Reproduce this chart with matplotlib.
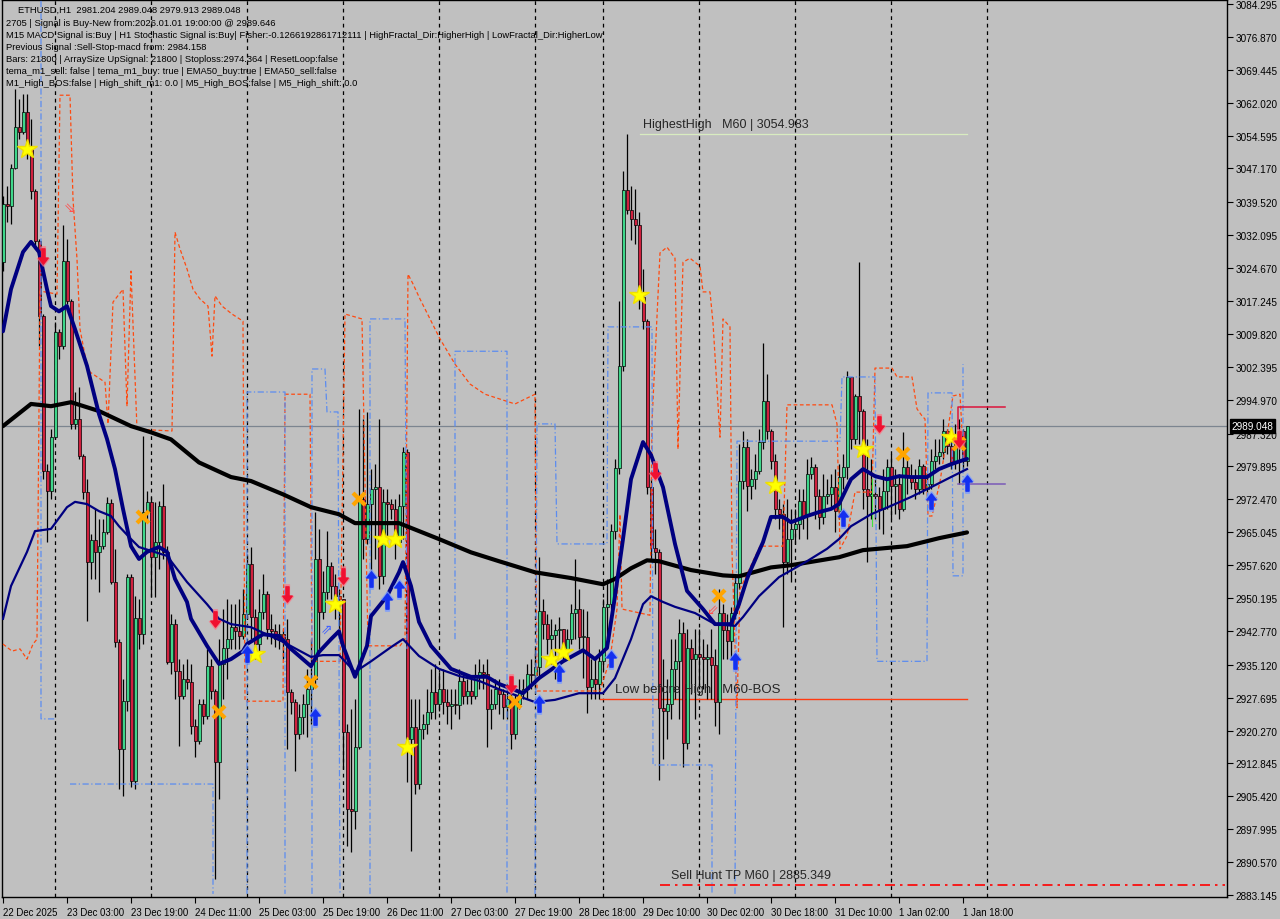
import numpy as np
import matplotlib
matplotlib.use("Agg")
import matplotlib.pyplot as plt
from matplotlib.path import Path
from matplotlib.transforms import blended_transform_factory

plt.rcParams['font.family'] = ['Liberation Sans', 'DejaVu Sans']

# ---- ETHUSD H1 bars (bar index 0 = 22 Dec 11:00) ----
first_open = 3026.0
closes = [3039.1, 3038.7, 3047.3, 3056.5, 3055.4, 3059.9, 3051.5, 3042.1, 3030.8, 3013.9,
          2978.9, 2974.3, 2986.5, 3010.2, 3007.1, 3026.3, 3017.2, 2989.5, 2990.6, 2982.3,
          2974.1, 2958.3, 2963.3, 2960.6, 2961.9, 2965.1, 2971.6, 2953.8, 2940.3, 2916.1,
          2926.9, 2954.9, 2908.9, 2945.7, 2942.0, 2969.6, 2971.9, 2959.4, 2962.8, 2971.0,
          2960.6, 2935.7, 2944.3, 2933.7, 2928.0, 2931.9, 2931.2, 2921.3, 2917.9, 2926.2,
          2923.5, 2934.8, 2929.2, 2913.2, 2935.3, 2938.9, 2940.9, 2943.6, 2942.7, 2941.6,
          2946.6, 2957.9, 2945.9, 2939.8, 2947.0, 2951.1, 2943.2, 2942.7, 2940.9, 2942.0,
          2940.9, 2929.0, 2926.7, 2919.5, 2923.3, 2926.2, 2929.6, 2931.9, 2959.0, 2947.0,
          2951.5, 2957.4, 2952.9, 2950.6, 2949.9, 2919.9, 2902.6, 2902.1, 2916.6, 2972.5,
          2963.5, 2971.4, 2974.8, 2975.2, 2955.2, 2971.9, 2971.4, 2970.3, 2962.8, 2971.0,
          2983.1, 2918.4, 2921.0, 2908.2, 2920.6, 2921.7, 2924.4, 2929.0, 2926.2, 2929.6,
          2926.7, 2925.8, 2926.2, 2926.0, 2931.5, 2928.0, 2929.2, 2928.0, 2932.4, 2933.5,
          2933.0, 2925.1, 2926.2, 2929.6, 2928.5, 2925.6, 2927.4, 2919.5, 2926.2, 2929.2,
          2929.6, 2933.0, 2932.8, 2934.6, 2947.3, 2944.3, 2940.9, 2941.8, 2942.9, 2943.2,
          2938.4, 2940.9, 2946.8, 2947.7, 2941.4, 2941.4, 2930.1, 2931.9, 2930.8, 2935.9,
          2948.2, 2948.8, 2965.3, 2979.5, 3002.6, 3042.3, 3037.8, 3035.8, 3034.4, 3018.1,
          3012.7, 2975.2, 2961.5, 2960.6, 2925.3, 2924.7, 2926.2, 2934.2, 2935.9, 2942.3,
          2917.5, 2938.9, 2936.4, 2937.6, 2936.9, 2936.4, 2936.9, 2935.0, 2926.7, 2946.8,
          2942.9, 2940.5, 2946.8, 2953.6, 2976.6, 2984.3, 2975.4, 2977.0, 2978.9, 2985.4,
          2994.7, 2987.9, 2981.1, 2970.3, 2969.1, 2958.3, 2963.5, 2965.8, 2966.9, 2972.1,
          2968.7, 2978.2, 2979.8, 2973.2, 2968.5, 2973.2, 2973.7, 2975.2, 2969.8, 2977.5,
          2979.8, 3000.1, 2986.1, 2995.8, 2992.4, 2974.8, 2973.2, 2973.7, 2973.2, 2970.3,
          2974.3, 2979.8, 2975.4, 2975.9, 2970.3, 2979.8, 2977.7, 2976.4, 2974.8, 2980.0,
          2974.8, 2975.9, 2981.1, 2982.3, 2983.1, 2987.9, 2984.5, 2980.9, 2987.2, 2987.9,
          2981.204, 2989.048]
highs = [3040.9, 3043.2, 3048.2, 3065.1, 3062.8, 3064.0, 3064.0, 3058.3, 3042.5, 3031.2,
         3014.3, 2980.4, 2988.3, 3012.5, 3010.9, 3034.4, 3031.2, 3017.7, 2996.7, 2997.8,
         2982.7, 2977.0, 2964.6, 2970.3, 2968.0, 2968.0, 2973.0, 2972.5, 2961.3, 2940.9,
         2931.9, 2955.6, 2955.6, 2950.6, 2949.9, 2986.8, 2974.3, 2973.0, 2971.9, 2972.1,
         2975.9, 2961.9, 2946.6, 2945.5, 2936.4, 2935.3, 2936.4, 2935.3, 2922.9, 2927.4,
         2927.4, 2938.7, 2936.4, 2929.6, 2940.9, 2947.7, 2949.9, 2948.8, 2948.8, 2949.9,
         2952.2, 2960.1, 2961.7, 2947.7, 2952.2, 2955.6, 2951.8, 2946.6, 2944.3, 2944.3,
         2943.2, 2945.5, 2929.6, 2927.4, 2926.2, 2928.5, 2934.2, 2940.9, 2969.6, 2965.8,
         2956.3, 2965.3, 2958.3, 2955.6, 2952.2, 2949.9, 2921.7, 2925.1, 2927.4, 2992.9,
         2990.6, 2992.2, 2979.3, 2980.4, 2990.6, 2974.8, 2974.8, 2972.5, 2972.5, 2973.7,
         2984.3, 2983.8, 2927.4, 2927.4, 2927.4, 2924.0, 2929.6, 2934.2, 2935.3, 2933.5,
         2934.2, 2929.6, 2929.6, 2929.6, 2934.2, 2933.0, 2931.9, 2932.4, 2935.3, 2936.4,
         2935.3, 2936.4, 2929.6, 2931.9, 2931.9, 2929.6, 2930.8, 2929.6, 2928.5, 2931.9,
         2931.9, 2935.3, 2936.4, 2938.7, 2959.4, 2949.9, 2946.6, 2945.5, 2944.3, 2945.9,
         2943.2, 2943.2, 2948.8, 2959.0, 2952.2, 2947.7, 2947.3, 2936.4, 2936.4, 2938.7,
         2949.9, 2954.5, 2966.9, 2981.6, 3017.2, 3046.6, 3054.98, 3043.2, 3042.5, 3037.3,
         3024.5, 3013.2, 2977.0, 2965.8, 2961.3, 2936.4, 2931.9, 2940.9, 2940.9, 2945.5,
         2944.8, 2943.2, 2940.9, 2943.2, 2943.2, 2940.9, 2939.8, 2943.2, 2938.7, 2952.2,
         2948.8, 2946.6, 2948.2, 2955.6, 2984.9, 2987.9, 2986.1, 2979.3, 2982.7, 2988.3,
         3007.8, 3000.8, 2988.3, 2982.7, 2972.5, 2971.4, 2972.5, 2970.3, 2970.3, 2974.8,
         2974.8, 2981.6, 2982.0, 2980.4, 2974.8, 2978.2, 2977.0, 2978.2, 2979.3, 2980.4,
         2982.7, 3001.4, 3000.1, 2996.3, 3026.0, 2992.9, 2986.1, 2981.6, 2977.0, 2975.2,
         2979.3, 2981.6, 2982.7, 2979.3, 2978.2, 2987.7, 2981.6, 2980.4, 2979.3, 2981.6,
         2980.4, 2978.2, 2983.8, 2986.1, 2986.1, 2990.6, 2988.3, 2988.3, 2989.5, 2990.6,
         2988.3, 2989.048]
lows = [3024.0, 3035.1, 3034.6, 3047.0, 3053.8, 3054.9, 3049.3, 3040.3, 3029.0, 3007.1,
        2977.0, 2962.8, 2972.5, 2986.1, 3004.1, 3006.4, 3016.6, 2988.3, 2988.3, 2981.6,
        2972.5, 2945.0, 2954.5, 2954.5, 2951.5, 2961.3, 2964.6, 2953.4, 2939.1, 2907.1,
        2905.5, 2924.7, 2907.5, 2907.1, 2938.7, 2939.8, 2968.0, 2950.4, 2950.4, 2956.7,
        2959.0, 2935.3, 2933.0, 2927.4, 2916.8, 2927.4, 2929.6, 2919.5, 2914.3, 2917.2,
        2921.7, 2922.9, 2927.4, 2886.7, 2904.8, 2927.4, 2931.9, 2938.7, 2938.7, 2938.7,
        2940.9, 2945.5, 2940.9, 2936.4, 2937.6, 2945.5, 2940.9, 2939.8, 2939.1, 2938.7,
        2936.4, 2916.1, 2924.0, 2911.1, 2918.4, 2919.5, 2918.8, 2921.7, 2930.8, 2938.7,
        2945.5, 2949.9, 2949.9, 2945.5, 2943.2, 2911.6, 2894.2, 2892.8, 2898.0, 2916.1,
        2959.0, 2962.4, 2954.5, 2959.0, 2952.2, 2953.4, 2963.5, 2968.0, 2959.0, 2962.4,
        2963.5, 2908.7, 2893.1, 2905.9, 2907.1, 2918.4, 2919.5, 2922.9, 2922.9, 2924.7,
        2924.0, 2921.7, 2920.6, 2924.0, 2922.9, 2926.2, 2926.2, 2926.2, 2927.4, 2929.6,
        2929.6, 2916.6, 2920.6, 2925.1, 2924.0, 2922.9, 2922.9, 2916.1, 2918.4, 2925.1,
        2927.4, 2927.4, 2929.6, 2929.6, 2931.9, 2940.9, 2937.6, 2935.3, 2931.9, 2938.7,
        2936.4, 2936.4, 2939.8, 2940.9, 2938.7, 2932.1, 2924.2, 2927.4, 2927.4, 2927.4,
        2934.2, 2940.9, 2947.7, 2963.5, 2978.2, 3001.4, 3036.9, 3031.0, 3030.1, 3015.4,
        3010.9, 2973.7, 2959.0, 2955.6, 2909.1, 2913.8, 2918.4, 2922.9, 2927.4, 2922.9,
        2912.0, 2916.1, 2928.5, 2922.9, 2929.6, 2929.6, 2927.4, 2927.4, 2921.3, 2919.5,
        2936.4, 2936.4, 2936.4, 2945.5, 2952.2, 2974.8, 2969.8, 2972.5, 2974.8, 2978.2,
        2983.8, 2986.1, 2979.3, 2968.0, 2965.8, 2943.6, 2955.6, 2953.8, 2962.4, 2963.5,
        2965.8, 2963.5, 2977.0, 2968.0, 2965.8, 2966.9, 2971.4, 2970.3, 2965.1, 2968.0,
        2974.8, 2977.0, 2983.8, 2984.9, 2984.9, 2970.3, 2958.3, 2968.0, 2968.0, 2965.8,
        2964.6, 2970.3, 2968.0, 2969.1, 2968.0, 2969.8, 2973.7, 2974.8, 2972.5, 2973.7,
        2973.7, 2972.5, 2974.8, 2979.3, 2980.4, 2981.6, 2982.7, 2979.3, 2979.3, 2975.9,
        2979.3, 2979.913]

# ---- moving averages (bar, price) ----
fast_bars = [0, 2, 5, 7, 9, 11, 12, 14, 16, 18, 21, 24, 26, 28, 30, 32, 34, 36, 39, 41, 43, 46, 47, 51, 54,
             57, 60, 61, 65, 69, 72, 77, 79, 82, 84, 85, 88, 91, 92, 96, 99, 100, 102, 104, 107, 112, 117,
             121, 124, 130, 134, 140, 145, 148, 151, 153, 155, 157, 160, 162, 165, 168, 171, 175, 178, 182,
             184, 186, 187, 190, 192, 195, 197, 201, 204, 207, 209, 212, 215, 218, 221, 224, 227, 231, 234,
             237, 241]
fast_ma = [3010.4, 3019.9, 3028.3, 3030.6, 3028.3, 3019.9, 3016.1, 3014.9, 3016.1, 3010.9, 3002.6, 2991.7,
           2986.1, 2979.3, 2970.3, 2961.9, 2959.0, 2960.6, 2961.7, 2960.6, 2954.5, 2949.3, 2945.5, 2939.4,
           2935.3, 2936.4, 2938.2, 2939.8, 2942.0, 2941.6, 2938.7, 2934.8, 2938.0, 2940.9, 2942.7, 2939.4,
           2932.4, 2939.4, 2946.1, 2950.6, 2956.0, 2958.3, 2952.9, 2944.8, 2939.4, 2934.2, 2932.4, 2932.4,
           2930.8, 2928.7, 2932.1, 2935.9, 2938.4, 2936.4, 2938.9, 2950.6, 2963.5, 2977.0, 2985.4, 2982.5,
           2975.2, 2962.4, 2951.8, 2947.7, 2944.3, 2944.3, 2948.8, 2954.5, 2956.7, 2962.8, 2968.5, 2968.5,
           2967.3, 2968.7, 2969.6, 2970.3, 2971.4, 2977.0, 2979.3, 2977.7, 2977.0, 2977.7, 2977.5, 2977.5,
           2979.3, 2980.4, 2981.6]
slow_bars = [0, 2, 6, 8, 12, 16, 18, 21, 24, 27, 29, 32, 34, 41, 46, 51, 54, 57, 62, 70, 77, 80, 84, 88, 92,
             97, 100, 104, 109, 114, 119, 124, 133, 138, 144, 150, 153, 157, 160, 162, 165, 168, 173, 178,
             183, 185, 189, 194, 201, 206, 209, 212, 217, 222, 227, 232, 237, 241]
slow_ma = [2945.5, 2952.9, 2960.6, 2965.3, 2965.8, 2970.7, 2971.9, 2971.4, 2969.8, 2968.7, 2966.4, 2963.5,
           2961.7, 2959.7, 2953.8, 2948.8, 2945.5, 2944.3, 2943.6, 2940.3, 2936.9, 2937.3, 2937.3, 2933.5,
           2935.9, 2939.1, 2940.9, 2937.1, 2934.2, 2932.6, 2931.5, 2929.6, 2926.7, 2927.2, 2928.7, 2928.7,
           2932.1, 2940.9, 2948.8, 2950.6, 2949.3, 2948.2, 2946.8, 2944.3, 2943.9, 2945.9, 2950.6, 2954.9,
           2958.5, 2961.3, 2963.5, 2966.4, 2969.1, 2971.0, 2973.0, 2975.2, 2977.5, 2979.3]
ema200_bars = [0, 7, 12, 17, 24, 32, 37, 42, 49, 57, 62, 70, 77, 84, 88, 99, 109, 117, 124, 133, 142, 150,
               153, 157, 161, 164, 172, 180, 184, 192, 197, 209, 215, 226, 234, 241]
ema200 = [2989.0, 2994.0, 2993.5, 2994.4, 2992.4, 2989.0, 2987.6, 2986.0, 2980.8, 2977.5, 2976.6, 2973.6,
          2970.7, 2969.1, 2967.1, 2967.1, 2963.5, 2960.5, 2958.5, 2956.0, 2954.7, 2953.3, 2954.5, 2956.9,
          2958.7, 2958.5, 2956.5, 2955.3, 2955.1, 2957.1, 2957.6, 2959.4, 2961.0, 2961.9, 2963.7, 2965.0]

# ---- fractal step lines (nan = gap) ----
nan = np.nan
orange_x = [0, 2.25, 4.25, 6, 7.5, 8.5, 9.25, 13.5, 14.25, 16.75, 17.5, 18.5, 19.25, 21, 21.75, 25.5, 26.25,
            27.5, 30, 31, 32, 33.5, 42.25, 43, 44.25, 46, 47.5, 49.25, 51.25, 52.25, 53, 54.75, 57.25, 60,
            60.5, 70, 70.5, 76.75, 77.25, 84.25, 85.5, 89.75, 91.25, 99.25, 100.5, 101.25, 102.5, 104.25,
            106.75, 109.25, 113, 116.75, 120.5, 124.25, 128, 133, 133.5, 149.25, 151.75, 153.5, 154.25,
            154.75, 161.75, 162.25, 164.25, 166, 168, 168.75, 170, 171.75, 174.25, 175, 176.75, 177.5,
            179.25, 180, 181.75, 182.25, 183.5, 184.25, 186, 189.25, 195, 196, 207.25, 208.5, 209.25, 211,
            213, 217.25, 218, 222.25, 223.5, 227.25, 228.5, 229.75, 230.5, 231.25, 232.25, 234.25, 237.5,
            239.25, 240]
orange_y = [2939.8, 2938.2, 2938.7, 2936.4, 2939.8, 2940.9, 3019.5, 3018.8, 3063.7, 3063.7, 3040.3, 3026.7,
            3010.9, 3002.6, 3001.2, 2998.9, 2989.5, 3017.0, 3019.9, 2993.5, 3024.0, 2988.3, 2987.9, 3032.8,
            3029.0, 3024.5, 3019.9, 3017.7, 3016.1, 3004.8, 3018.4, 3016.1, 3014.3, 3012.7, 2926.9, 2926.9,
            2996.2, 2996.2, 2935.9, 2935.9, 3014.3, 3013.2, 2939.4, 2939.4, 2940.9, 3023.3, 3021.1, 3017.7,
            3013.2, 3008.7, 3003.0, 2998.5, 2996.2, 2995.1, 2994.0, 2996.2, 2929.2, 2929.2, 2936.4, 2947.7,
            2969.1, 2947.7, 2946.3, 2989.9, 3028.1, 3029.4, 3026.9, 2983.8, 3026.0, 3026.9, 3025.1, 3019.3,
            3019.3, 3012.3, 2986.5, 3013.2, 3011.4, 2960.6, 2925.4, 2952.2, 2955.6, 2961.9, 2961.9, 2993.8,
            2993.8, 2989.5, 2961.3, 2964.2, 2974.1, 2974.1, 3002.1, 3002.1, 3000.1, 3000.1, 2992.9, 2991.3,
            2990.6, 2968.7, 2968.7, 2976.4, 2995.8, 2996.2, 2983.8]
blue_x = [9.5, 9.5, 13, nan, 16.75, 52.5, 52.5, nan, 61, 61, 70.5, 70.5, nan, 77.25, 77.25, 80.5, 81, 83.75,
          84.25, nan, 91.75, 91.75, 100.5, 101, nan, 113, 113, 126, 126, nan, 133, 133.5, 138, 138.5, 151,
          151.25, 162.25, 162.5, 177.25, 177.25, nan, 183, 183.5, 209.25, 209.75, 218, 218.5, 231, 231.25,
          237.25, 237.5, 240, 240]
blue_y = [3085.0, 2922.9, 2922.9, nan, 2908.2, 2908.2, 2883.4, nan, 2883.4, 2996.7, 2996.7, 2883.4, nan,
          2883.4, 3001.9, 3001.9, 2992.2, 2992.2, 2883.4, nan, 2883.4, 3013.2, 3013.2, 2938.7, nan, 2940.9,
          3005.9, 3005.9, 2883.4, nan, 2883.4, 2989.5, 2989.5, 2962.4, 2962.4, 3011.4, 3011.4, 2912.5, 2912.5,
          2883.4, nan, 2883.4, 2985.6, 2985.6, 3000.1, 3000.1, 2935.9, 2935.9, 2996.5, 2996.5, 2955.2, 2955.2,
          3003.0]

# ---- signal markers ----
star_bars = [6, 63, 83, 95, 98, 101, 137, 140, 159, 193, 215, 237]
star_prices = [3051.5, 2937.5, 2948.8, 2963.5, 2963.5, 2916.5, 2936.4, 2938.0, 3018.6, 2975.7, 2983.8, 2986.5]
cross_bars = [35, 54, 77, 89, 128, 179, 225, 239]
cross_prices = [2968.4, 2924.4, 2931.2, 2972.5, 2926.7, 2950.6, 2982.7, 2984.9]
sell_bars = [10, 53, 71, 85, 127, 163, 219, 239]
sell_prices = [3027.4, 2945.4, 2951.1, 2955.1, 2930.7, 2978.8, 2989.4, 2986.0]
buy_bars = [61, 78, 92, 96, 99, 134, 139, 152, 183, 210, 232, 241]
buy_prices = [2937.5, 2923.3, 2954.4, 2949.5, 2952.2, 2926.2, 2933.2, 2936.4, 2935.9, 2968.2, 2972.1, 2976.1]

# ---- levels / axis ----
highest_high = 3054.983
low_before_high = 2927.4
sell_hunt_tp = 2885.349
last_price = 2989.048
day_separators = [13, 37, 61, 85, 109, 133, 150, 174, 198, 222, 246]
xtick_bars = list(range(0, 241, 16))
xtick_labels = ['22 Dec 2025', '23 Dec 03:00', '23 Dec 19:00', '24 Dec 11:00', '25 Dec 03:00',
                '25 Dec 19:00', '26 Dec 11:00', '27 Dec 03:00', '27 Dec 19:00', '28 Dec 18:00',
                '29 Dec 10:00', '30 Dec 02:00', '30 Dec 18:00', '31 Dec 10:00', '1 Jan 02:00', '1 Jan 18:00']
ytick_values = [3084.295, 3076.870, 3069.445, 3062.020, 3054.595, 3047.170, 3039.520, 3032.095, 3024.670,
                3017.245, 3009.820, 3002.395, 2994.970, 2987.320, 2979.895, 2972.470, 2965.045, 2957.620,
                2950.195, 2942.770, 2935.120, 2927.695, 2920.270, 2912.845, 2905.420, 2897.995, 2890.570,
                2883.145]
info_lines = [
    "ETHUSD,H1  2981.204 2989.048 2979.913 2989.048",
    "2705 | Signal is Buy-New from:2026.01.01 19:00:00 @ 2989.646",
    "M15 MACD Signal is:Buy | H1 Stochastic Signal is:Buy| Fisher:-0.1266192861712111 | HighFractal_Dir:HigherHigh | LowFractal_Dir:HigherLow",
    "Previous Signal :Sell-Stop-macd from: 2984.158",
    "Bars: 21800 | ArraySize UpSignal: 21800 | Stoploss:2974.364 | ResetLoop:false",
    "tema_m1_sell: false | tema_m1_buy: true | EMA50_buy:true | EMA50_sell:false",
    "M1_High_BOS:false | High_shift_m1: 0.0 | M5_High_BOS:false | M5_High_shift: 0.0",
]

BG = '#c0c0c0'
W, H = 1280, 920


def arrow_marker(up=True):
    v = [(0, 1), (0.62, 0.2), (0.2, 0.2), (0.2, -1), (-0.2, -1), (-0.2, 0.2), (-0.62, 0.2), (0, 1)]
    if not up:
        v = [(a, -b) for a, b in v]
    return Path(v, closed=True)


fig = plt.figure(figsize=(W / 100, H / 100), dpi=100, facecolor=BG)
ax = fig.add_axes([2 / W, 22 / H, 1225 / W, 897 / H], facecolor=BG)

# candles
c = np.array(closes)
o = np.r_[first_open, c[:-1]]
hi = np.maximum(np.array(highs), np.maximum(o, c))
lo = np.minimum(np.array(lows), np.minimum(o, c))
xb = np.arange(len(c))
bull = c >= o
ax.vlines(xb, lo, hi, color='black', lw=0.9, zorder=3)
body = np.maximum(np.abs(c - o), 0.25)
ax.bar(xb, body, bottom=np.minimum(o, c), width=0.75,
       color=np.where(bull, '#3ed68a', '#d0203e'), edgecolor='black', linewidth=0.5, zorder=4)

# separators and current price line
for s in day_separators:
    ax.axvline(s, color='black', lw=0.9, ls=(0, (3, 3)), zorder=1)
ax.axhline(last_price, color='#7c8590', lw=0.9, zorder=1.5)

# step lines
ax.plot(orange_x, orange_y, color='#ff4a10', lw=0.9, ls=(0, (3, 2)), zorder=4.5)
ax.plot(blue_x, blue_y, color='#5b8cf0', lw=0.9, ls=(0, (5, 2, 1, 2)), zorder=4.5)

# moving averages
ax.plot(ema200_bars, ema200, color='black', lw=3.0, zorder=5, solid_capstyle='round')
ax.plot(slow_bars, slow_ma, color='#000080', lw=1.6, zorder=5.2)
ax.plot(fast_bars, fast_ma, color='#000080', lw=2.8, zorder=5.4, solid_capstyle='round')

# levels
ax.plot([159.25, 241], [highest_high] * 2, color='#d8ecc0', lw=0.9, zorder=2)
ax.text(160, 3057.2, 'HighestHigh   M60 | 3054.983', fontsize=9, color='#262626', va='center', zorder=8)
ax.plot([149.25, 241], [low_before_high] * 2, color='#ff3a10', lw=1.0, zorder=2)
ax.text(153, 2929.6, 'Low before High   M60-BOS', fontsize=9.5, color='#262626', va='center', zorder=8)
ax.plot([164.25, 305.5], [sell_hunt_tp] * 2, color='#ff0000', lw=1.2, ls=(0, (6, 3, 1.5, 3)), zorder=6)
ax.text(167, 2887.7, 'Sell Hunt TP M60 | 2885.349', fontsize=9, color='#262626', va='center', zorder=8)
ax.plot([238.75, 238.75, 250.5], [2988.3, 2993.3, 2993.3], color='#dc143c', lw=1.1, zorder=6)
ax.plot([238.75, 250.5], [2975.9, 2975.9], color='#7a5ab8', lw=1.1, zorder=6)
ax.plot([217.25, 217.25], [2966.4, 2977.0], color='#40e040', lw=0.8, zorder=4.6)

# markers
ax.plot(star_bars, star_prices, ls='none', marker='*', ms=15, color='#ffff00', mec='#f0e000', zorder=7)
ax.plot(cross_bars, cross_prices, ls='none', marker='x', ms=8, mew=3, color='#ffa500', zorder=7)
ax.plot(sell_bars, sell_prices, ls='none', marker=arrow_marker(False), ms=14, color='#ff7080', alpha=0.6, zorder=7)
ax.plot(sell_bars, sell_prices, ls='none', marker=arrow_marker(False), ms=11, color='#f01030', zorder=7.1)
ax.plot(buy_bars, buy_prices, ls='none', marker=arrow_marker(True), ms=14, color='#7b9cff', alpha=0.7, zorder=7)
ax.plot(buy_bars, buy_prices, ls='none', marker=arrow_marker(True), ms=11, color='#1430f0', zorder=7.1)
ax.text(16.75, 3038.4, '\u21d8', fontsize=10, color='#ff5050', ha='center', va='center',
        family='DejaVu Sans', zorder=7)
ax.text(81, 2943.2, '\u21d7', fontsize=10, color='#4060ff', ha='center', va='center',
        family='DejaVu Sans', zorder=7)
ax.text(177.25, 2947.7, '\u21d9', fontsize=10, color='#ff5050', ha='center', va='center',
        family='DejaVu Sans', zorder=7)

# axes
ax.set_xlim(-0.25, 306)
ax.set_ylim(2882.694, 3085.198)
for sp in ax.spines.values():
    sp.set_color('black')
    sp.set_linewidth(1.0)
ax.yaxis.tick_right()
ax.set_yticks(ytick_values)
ax.set_yticklabels([f'{v:.3f}' for v in ytick_values])
ax.set_xticks(xtick_bars)
ax.set_xticklabels(xtick_labels, ha='left')
ax.tick_params(axis='both', direction='out', length=4, width=0.8, color='black',
               labelsize=7.2, labelcolor='black', pad=2)
ax.tick_params(axis='x', pad=3, labelsize=6.9)

trans = blended_transform_factory(ax.transAxes, ax.transData)
ax.text(1.0035, last_price, '2989.048', transform=trans, fontsize=7.2, color='white', va='center',
        ha='left', clip_on=False, zorder=10,
        bbox=dict(facecolor='black', edgecolor='black', pad=1.2))

# info text block
text_y = [10, 23, 35, 47, 59, 71, 83]
for i, (line, ty) in enumerate(zip(info_lines, text_y)):
    tx = 18 if i == 0 else 6
    fig.text(tx / W, 1 - ty / H, line, fontsize=6.75, color='black', va='center', ha='left')

fig.savefig('out.png', dpi=100, facecolor=BG)
